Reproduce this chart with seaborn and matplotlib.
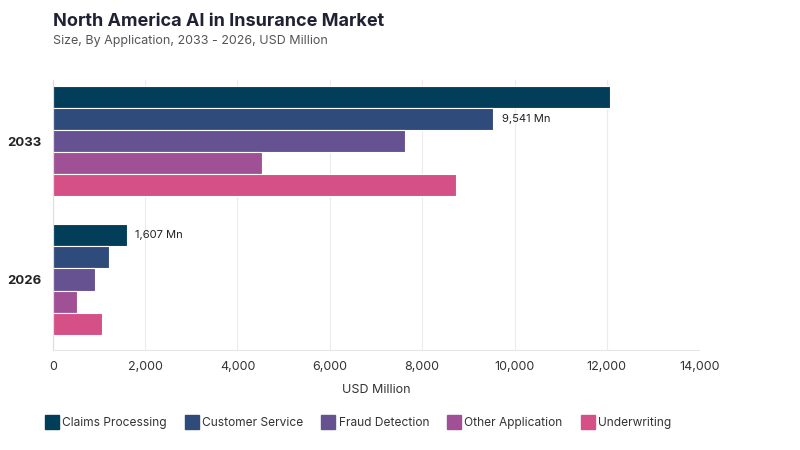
import pandas as pd
import matplotlib.pyplot as plt
import seaborn as sns

years = ['2033', '2026']
applications = ['Claims Processing', 'Customer Service', 'Fraud Detection',
                'Other Application', 'Underwriting']
values_2033 = [12070, 9541, 7630, 4530, 8735]
values_2026 = [1607, 1215, 910, 520, 1060]
colors = ['#023e5a', '#2f4b7c', '#665191', '#a05195', '#d45087']
xticks = [0, 2000, 4000, 6000, 8000, 10000, 12000, 14000]

df = pd.DataFrame({
    'Year': [years[0]] * 5 + [years[1]] * 5,
    'Application': applications * 2,
    'Value': values_2033 + values_2026,
})

sns.set_style('white')
plt.rcParams['font.family'] = ['Inter', 'DejaVu Sans']

fig = plt.figure(figsize=(8, 4.5), dpi=100)
ax = fig.add_axes([0.066, 0.222, 0.808, 0.6])

sns.barplot(data=df, y='Year', x='Value', hue='Application', order=years,
            hue_order=applications, palette=colors, orient='h', width=0.8,
            ax=ax, legend=False, saturation=1)

for p in ax.patches:
    p.set_edgecolor('white')
    p.set_linewidth(0.8)

ax.set_xlim(0, 14000)
ax.set_ylim(1.51, -0.44)
ax.set_xticks(xticks)
ax.set_xticklabels([f'{t:,}' for t in xticks], fontsize=9, color='#333333')
ax.tick_params(axis='both', length=0, pad=8)
ax.set_yticks([0, 1])
ax.set_yticklabels(years, fontsize=9.5, fontweight='bold', color='#222222')
ax.set_ylabel('')
ax.set_xlabel('USD Million', fontsize=9, color='#333333', labelpad=8)
ax.grid(axis='x', color='#ececec', linewidth=0.8)
ax.set_axisbelow(True)
for side in ['top', 'right']:
    ax.spines[side].set_visible(False)
ax.spines['left'].set_color('#dddddd')
ax.spines['bottom'].set_color('#e6e6e6')

# value labels
bar_h = 0.8 / 5
ax.text(values_2033[1] + 180, 0 - 0.4 + bar_h * 1.5, '9,541 Mn',
        va='center', fontsize=8, color='#222222')
ax.text(values_2026[0] + 180, 1 - 0.4 + bar_h * 0.5, '1,607 Mn',
        va='center', fontsize=8, color='#222222')

fig.text(0.066, 0.952, 'North America AI in Insurance Market', fontsize=13,
         fontweight='bold', color='#1f2233', va='center')
fig.text(0.066, 0.908, 'Size, By Application, 2033 - 2026, USD Million',
         fontsize=9, color='#555555', va='center')

handles = [plt.Line2D([], [], marker='s', linestyle='', markersize=10,
                      markerfacecolor=c, markeredgecolor=c) for c in colors]
fig.legend(handles, applications, loc='center left', bbox_to_anchor=(0.045, 0.06),
           ncol=5, frameon=False, fontsize=8.6, handlelength=0.9,
           handletextpad=0.4, columnspacing=1.65, labelcolor='#333333')

fig.savefig('out.png', dpi=100)
